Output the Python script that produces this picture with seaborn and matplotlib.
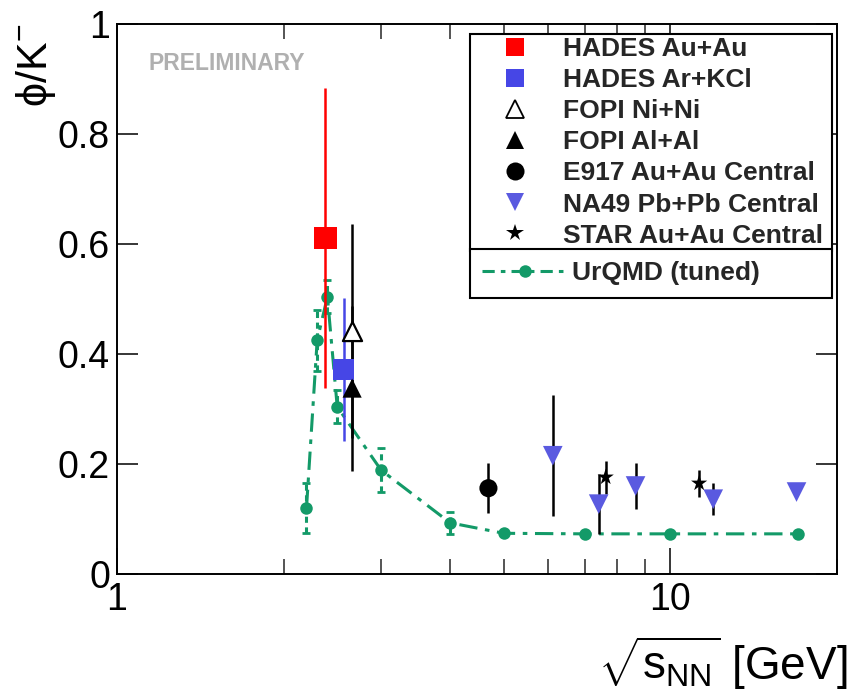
import numpy as np
import pandas as pd
import matplotlib
matplotlib.use("Agg")
import matplotlib.pyplot as plt
from matplotlib.lines import Line2D
import seaborn as sns

# ---------------- data ----------------
hades_auau_x = [2.38]
hades_auau_y = [0.611]
hades_auau_err = [0.272]

hades_arkcl_x = [2.57]
hades_arkcl_y = [0.371]
hades_arkcl_err = [0.13]

fopi_nini_x = [2.66]
fopi_nini_y = [0.442]
fopi_nini_err = [0.195]

fopi_alal_x = [2.66]
fopi_alal_y = [0.338]
fopi_alal_err = [0.15]

e917_x = [4.69]
e917_y = [0.156]
e917_err = [0.045]

na49_x = [6.13, 7.42, 8.65, 11.95, 16.9]
na49_y = [0.215, 0.127, 0.160, 0.136, 0.149]
na49_err = [0.11, 0.054, 0.042, 0.029, 0.0]

star_x = [7.64, 11.27]
star_y = [0.176, 0.165]
star_err = [0.03, 0.025]

urqmd_x = [2.2, 2.3, 2.4, 2.5, 3.0, 4.0, 5.0, 7.0, 10.0, 17.0]
urqmd_y = [0.120, 0.425, 0.504, 0.304, 0.189, 0.093, 0.074, 0.073, 0.073, 0.073]
urqmd_err = [0.045, 0.055, 0.03, 0.03, 0.04, 0.02, 0.0, 0.0, 0.0, 0.0]

legend_labels = ["HADES Au+Au", "HADES Ar+KCl", "FOPI Ni+Ni", "FOPI Al+Al",
                 "E917 Au+Au Central", "NA49 Pb+Pb Central", "STAR Au+Au Central"]
model_label = "UrQMD (tuned)"

# ---------------- style ----------------
sns.set_theme(style="ticks")
plt.rcParams["font.family"] = ["Liberation Sans", "DejaVu Sans"]
plt.rcParams["mathtext.fontset"] = "custom"
plt.rcParams["mathtext.rm"] = "Liberation Sans"
plt.rcParams["mathtext.it"] = "Liberation Sans:italic"
plt.rcParams["mathtext.bf"] = "Liberation Sans:bold"

RED = "#ff0000"
BLUE = "#4646e6"
NABLUE = "#5a5ae0"
GREEN = "#139a68"

W, H = 852, 695
fig = plt.figure(figsize=(W/100, H/100), dpi=100)
AX_L, AX_R, AX_T, AX_B = 117, 837, 24, 574
ax = fig.add_axes([AX_L/W, 1-AX_B/H, (AX_R-AX_L)/W, (AX_B-AX_T)/H])
ax.set_xscale("log")
ax.set_xlim(1, 20)
ax.set_ylim(0, 1)

# ---------- UrQMD ----------
urq = pd.DataFrame({"x": urqmd_x, "y": urqmd_y})
eb = ax.errorbar(urqmd_x, urqmd_y, yerr=urqmd_err, fmt="none", ecolor=GREEN,
                 elinewidth=2.2, capsize=3, capthick=2, zorder=2)
for lc in eb[2]:
    lc.set_linestyle((0, (2, 1.5)))
sns.lineplot(data=urq, x="x", y="y", ax=ax, color=GREEN, lw=2.2,
             linestyle=(0, (6, 2.5, 1.5, 2.5)), marker="o", markersize=9,
             markeredgewidth=0, sort=False, zorder=3, legend=False)

# ---------- data sets ----------
def errs(x, y, e, color):
    ax.errorbar(x, y, yerr=e, fmt="none", ecolor=color, elinewidth=1.8,
                capsize=0, zorder=4)

errs(hades_auau_x, hades_auau_y, hades_auau_err, RED)
errs(hades_arkcl_x, hades_arkcl_y, hades_arkcl_err, BLUE)
errs(fopi_nini_x, fopi_nini_y, fopi_nini_err, "black")
errs(fopi_alal_x, fopi_alal_y, fopi_alal_err, "black")
errs(e917_x, e917_y, e917_err, "black")
errs(na49_x, na49_y, na49_err, "black")
errs(star_x, star_y, star_err, "black")

def scat(x, y, marker, s, fc, ec="none", lw=0):
    sns.scatterplot(x=x, y=y, ax=ax, marker=marker, s=s, color=fc,
                    edgecolor=ec, linewidth=lw, zorder=5, legend=False)

scat(hades_auau_x, hades_auau_y, "s", 260, RED)
scat(hades_arkcl_x, hades_arkcl_y, "s", 230, BLUE)
scat(fopi_nini_x, fopi_nini_y, "^", 190, "white", "black", 1.6)
scat(fopi_alal_x, fopi_alal_y, "^", 190, "black")
scat(e917_x, e917_y, "o", 170, "black")
scat(na49_x, na49_y, "v", 200, NABLUE)
scat(star_x, star_y, "*", 150, "black")

# ---------- axes ----------
ax.set_yticks([0, 0.2, 0.4, 0.6, 0.8, 1.0])
ax.set_yticklabels(["0", "0.2", "0.4", "0.6", "0.8", "1"])
ax.set_xticks([1, 10])
ax.set_xticklabels(["1", "10"])
ax.set_xticks([2, 3, 4, 5, 6, 7, 8, 9, 20], minor=True)
ax.xaxis.set_minor_formatter(matplotlib.ticker.NullFormatter())
ax.yaxis.set_minor_locator(matplotlib.ticker.NullLocator())
ax.tick_params(axis="both", which="major", direction="in", top=True, right=True,
               labelsize=27, width=1.1, color="black", labelcolor="black")
ax.tick_params(axis="y", which="major", length=15, pad=5)
ax.tick_params(axis="x", which="major", length=18.5, pad=6)
ax.tick_params(axis="x", which="minor", direction="in", top=True, length=10.5, width=1.1)
for sp in ax.spines.values():
    sp.set_visible(True)
    sp.set_linewidth(1.4)
    sp.set_color("black")

ax.set_ylabel(r"ϕ/K$^{-}$", fontsize=31, loc="top", labelpad=0, color="black")
ax.set_xlabel(r"$\sqrt{\mathrm{s}_{\mathrm{NN}}}$ [GeV]", fontsize=33, color="black",
              ha="right")
ax.xaxis.set_label_coords((847-AX_L)/(AX_R-AX_L), -(692-AX_B)/(AX_B-AX_T))
ax.xaxis.label.set_va("bottom")

ax.text(148/W, 1-64/H, "PRELIMINARY", transform=fig.transFigure,
        fontsize=16.5, fontweight="bold", color="#b0b0b0", va="center", ha="left")

# ---------- legend (two stacked boxes) ----------
def hndl(marker, fc, ec, mew=0):
    return Line2D([], [], ls="none", marker=marker, ms=13, mfc=fc, mec=ec, mew=mew)

handles = [
    hndl("s", RED, RED),
    hndl("s", BLUE, BLUE),
    hndl("^", "white", "black", 1.3),
    hndl("^", "black", "black"),
    hndl("o", "black", "black"),
    hndl("v", NABLUE, NABLUE),
    hndl("*", "black", "black"),
]
model_handle = Line2D([], [], color=GREEN, lw=2.2, ls=(0, (4, 2, 1.5, 2)),
                      marker="o", ms=9, mew=0)

def to_ax(px, py):
    return (px-AX_L)/(AX_R-AX_L), (AX_B-py)/(AX_B-AX_T)

LX0, LX1 = 470, 832
common = dict(frameon=True, fancybox=False, edgecolor="black", mode="expand",
              prop={"family": "Liberation Sans", "weight": "bold", "size": 19},
              handlelength=3.2, handletextpad=0.2, borderaxespad=0,
              framealpha=1, loc="upper left")

bx0, by0 = to_ax(LX0, 34)
bx1, _ = to_ax(LX1, 34)
_, by1 = to_ax(LX0, 251)
leg1 = ax.legend(handles, legend_labels,
                 bbox_to_anchor=(bx0, by1, bx1-bx0, by0-by1),
                 labelspacing=0.27, borderpad=0.11, **common)
leg1.get_frame().set_linewidth(1.5)
leg1.set_zorder(10)
ax.add_artist(leg1)

_, cy0 = to_ax(LX0, 249)
_, cy1 = to_ax(LX0, 298)
leg2 = ax.legend([model_handle], [model_label],
                 bbox_to_anchor=(bx0, cy1, bx1-bx0, cy0-cy1),
                 borderpad=0.47, **common)
leg2.get_frame().set_linewidth(1.5)
leg2.set_zorder(10)

fig.savefig("out.png", dpi=100)
